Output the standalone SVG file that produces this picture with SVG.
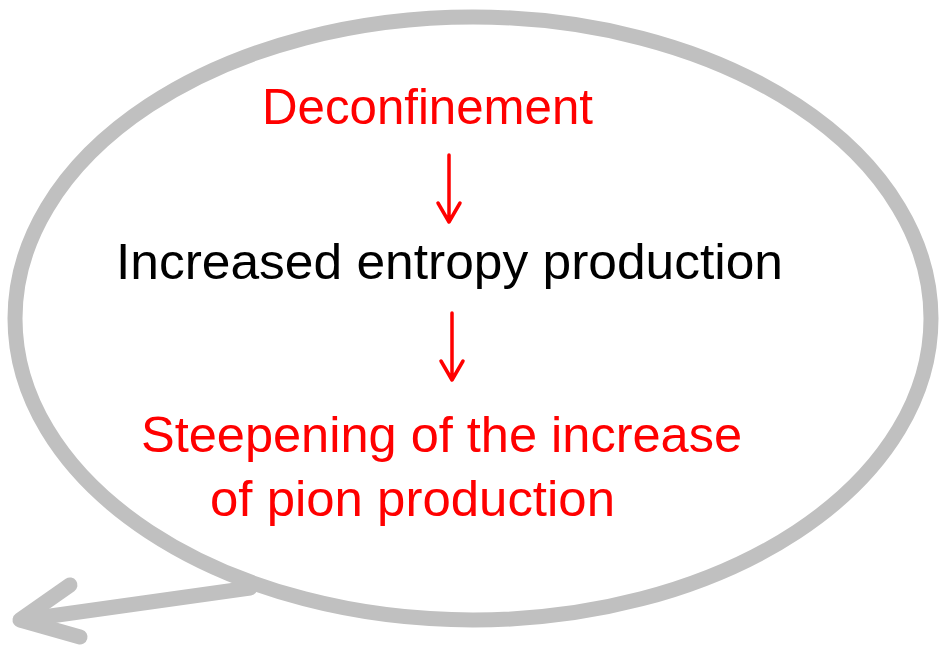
<svg xmlns="http://www.w3.org/2000/svg" width="941" height="649" viewBox="0 0 941 649">
  <style>
    .bubble { fill: none; stroke: #c0c0c0; stroke-width: 15; stroke-linecap: round; stroke-linejoin: round; }
    .lbl { font-family: "Comic Sans MS", "Liberation Sans", sans-serif; font-size: 50px; }
    .red { fill: #ff0000; }
    .blk { fill: #000000; }
    .step { fill: none; stroke: #ff0000; stroke-width: 3.5; stroke-linecap: round; stroke-linejoin: round; }
  </style>
  <rect width="941" height="649" fill="#ffffff"/>

  <!-- speech bubble with its tail -->
  <g id="bubble">
    <ellipse class="bubble" cx="473" cy="318.5" rx="458" ry="301.5"/>
    <path class="bubble" d="M250 588 L22 620"/>
    <path class="bubble" d="M70 585 L20 620 L80 637"/>
  </g>

  <g id="deconfinement">
    <text class="lbl red" x="262" y="124" textLength="331" lengthAdjust="spacingAndGlyphs">Deconfinement</text>
  </g>
  <g id="entropy">
    <text class="lbl blk" x="116" y="279" textLength="667" lengthAdjust="spacingAndGlyphs">Increased entropy production</text>
  </g>
  <g id="pion">
    <text class="lbl red" x="141" y="452" textLength="601" lengthAdjust="spacingAndGlyphs">Steepening of the increase</text>
    <text class="lbl red" x="210" y="516" textLength="405" lengthAdjust="spacingAndGlyphs">of pion production</text>
  </g>

  <g id="connectors">
    <path class="step" d="M449 155 L449 222 M438 203 L449 222 L460 203"/>
    <path class="step" d="M452 313 L452 380 M441 361 L452 380 L463 361"/>
  </g>
</svg>
